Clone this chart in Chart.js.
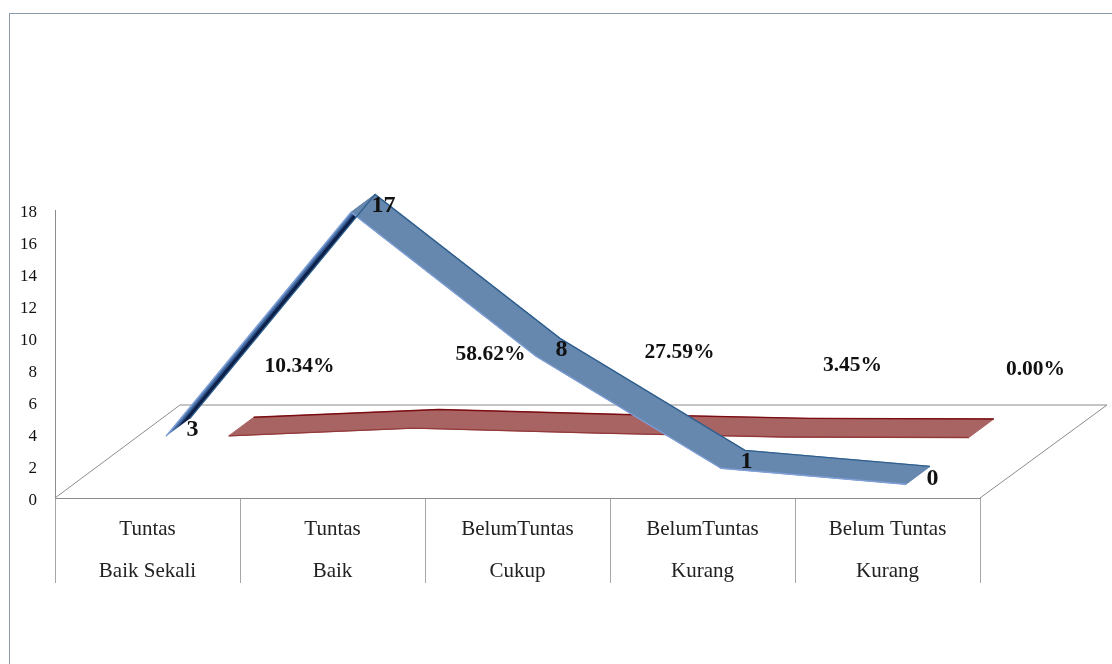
<!DOCTYPE html>
<html>
<head>
<meta charset="utf-8">
<title>Ketuntasan</title>
<script src="https://cdn.jsdelivr.net/npm/chart.js@4"></script>
<style>
    html, body { margin: 0; padding: 0; background: #fff; }
    #frame { position: absolute; left: 9px; top: 13px; right: 0; bottom: 0; border-left: 1px solid #8a9bab; border-top: 1px solid #8a9bab; }
    canvas { position: absolute; left: 0; top: 0; }
</style>
</head>
<body>
<div id="frame"></div>
<canvas id="chart" width="1112" height="664"></canvas>
<script>
// Chart values
const categories = [
    ['Tuntas', 'Baik Sekali'],
    ['Tuntas', 'Baik'],
    ['BelumTuntas', 'Cukup'],
    ['BelumTuntas', 'Kurang'],
    ['Belum Tuntas', 'Kurang']
];
const jumlah = [3, 17, 8, 1, 0];
const persen = [0.1034, 0.5862, 0.2759, 0.0345, 0];
const yTicks = [0, 2, 4, 6, 8, 10, 12, 14, 16, 18];

// Oblique projection of the 3D floor
const depthX = 125;
const depthY = -93;
const FONT = '"Liberation Serif", serif';

// Where the labels were dragged to, relative to their point
const jumlahShift = [[45, -20], [51, -20], [44, -20], [44, -20], [45, -19]];
const persenShift = [[152, -130], [158, -134], [162, -141], [150, -132], [148, -129]];

function drawRibbon(ctx, meta, look) {
    const pts = meta.data;
    const f = look.front, b = look.back;
    ctx.lineJoin = 'round';
    for (let i = 0; i < pts.length - 1; i++) {
        const p = pts[i], q = pts[i + 1];
        const dir = { x: q.x - p.x, y: q.y - p.y };
        const under = dir.x * depthY - dir.y * depthX > 0;
        const path = new Path2D();
        path.moveTo(p.x + depthX * f, p.y + depthY * f);
        path.lineTo(q.x + depthX * f, q.y + depthY * f);
        path.lineTo(q.x + depthX * b, q.y + depthY * b);
        path.lineTo(p.x + depthX * b, p.y + depthY * b);
        path.closePath();
        if (under) {
            // we see the underside of the ribbon on a steep rise
            const len = Math.hypot(dir.x, dir.y);
            const nx = -dir.y / len, ny = dir.x / len;
            const w = (depthX * nx + depthY * ny) * (b - f);
            const sx = p.x + depthX * f, sy = p.y + depthY * f;
            const g = ctx.createLinearGradient(sx, sy, sx + nx * w, sy + ny * w);
            g.addColorStop(0, '#5f8ac0');
            g.addColorStop(0.4, '#34598f');
            g.addColorStop(0.55, '#0f2450');
            g.addColorStop(1, '#0a1a3e');
            ctx.fillStyle = g;
            ctx.fill(path);
        } else {
            ctx.fillStyle = look.fill;
            ctx.strokeStyle = look.fill;
            ctx.lineWidth = 1;
            ctx.fill(path);
            ctx.stroke(path);
        }
    }
    ctx.lineWidth = 1.4;
    [[f, look.frontEdge], [b, look.backEdge]].forEach(e => {
        ctx.beginPath();
        pts.forEach((p, i) => {
            const x = p.x + depthX * e[0], y = p.y + depthY * e[0];
            if (i === 0) ctx.moveTo(x, y); else ctx.lineTo(x, y);
        });
        ctx.strokeStyle = e[1];
        ctx.stroke();
    });
}

const ribbonPlugin = {
    id: 'ribbon',
    beforeDatasetsDraw(chart) {
        const ctx = chart.ctx;
        const x = chart.scales.x, y = chart.scales.y;
        const y0 = y.getPixelForValue(0);
        // floor
        ctx.save();
        ctx.strokeStyle = '#8c8c8c';
        ctx.lineWidth = 1;
        ctx.beginPath();
        ctx.moveTo(x.left, y0);
        ctx.lineTo(x.left + depthX, y0 + depthY);
        ctx.lineTo(x.right + depthX + 2, y0 + depthY);
        ctx.lineTo(x.right, y0);
        ctx.stroke();
        ctx.restore();
    },
    afterDatasetsDraw(chart) {
        const ctx = chart.ctx;
        ctx.save();
        drawRibbon(ctx, chart.getDatasetMeta(1), {
            front: 0.65, back: 0.85, fill: '#a86463',
            frontEdge: '#93393a', backEdge: '#7a0c12'
        });
        drawRibbon(ctx, chart.getDatasetMeta(0), {
            front: 0.148, back: 0.34, fill: '#6687ae',
            frontEdge: '#7f9fd6', backEdge: '#2f5f8e'
        });

        ctx.fillStyle = '#111';
        ctx.textBaseline = 'middle';

        // y axis labels sit a little under their tick
        const ys = chart.scales.y;
        ctx.textAlign = 'right';
        ctx.font = '17px ' + FONT;
        ys.ticks.forEach(t => {
            ctx.fillText(String(t.value), ys.right - 18, ys.getPixelForValue(t.value) + 3);
        });

        // data labels
        ctx.textAlign = 'center';
        ctx.font = 'bold 24px ' + FONT;
        chart.getDatasetMeta(0).data.forEach((p, i) => {
            ctx.fillText(String(jumlah[i]), p.x + jumlahShift[i][0], p.y + jumlahShift[i][1]);
        });
        ctx.font = 'bold 21.5px ' + FONT;
        chart.getDatasetMeta(1).data.forEach((p, i) => {
            const text = (persen[i] * 100).toFixed(2) + '%';
            ctx.fillText(text, p.x + persenShift[i][0], p.y + persenShift[i][1]);
        });
        ctx.restore();
    }
};

new Chart(document.getElementById('chart'), {
    type: 'line',
    plugins: [ribbonPlugin],
    data: {
        labels: categories,
        datasets: [
            { label: 'Jumlah', data: jumlah, showLine: false, pointRadius: 0 },
            { label: 'Persen', data: persen, showLine: false, pointRadius: 0 }
        ]
    },
    options: {
        responsive: false,
        animation: false,
        events: [],
        layout: { padding: { left: 0, top: 210, right: 132, bottom: 81 } },
        plugins: { legend: { display: false }, tooltip: { enabled: false }, title: { display: false } },
        scales: {
            x: {
                offset: true,
                afterFit(scale) { scale.height = 85; scale.paddingLeft = 0; scale.paddingRight = 0; },
                grid: { offset: true, drawOnChartArea: false, tickLength: 85, color: '#a6a6a6', lineWidth: 1 },
                border: { color: '#8c8c8c', width: 1 },
                ticks: {
                    autoSkip: false,
                    maxRotation: 0,
                    minRotation: 0,
                    padding: -75,
                    color: '#222',
                    font: { family: FONT, size: 21, lineHeight: 2 }
                }
            },
            y: {
                min: 0,
                max: 18,
                afterFit(scale) { scale.width = 55; scale.paddingTop = 0; scale.paddingBottom = 0; },
                afterBuildTicks(scale) { scale.ticks = yTicks.map(v => ({ value: v })); },
                grid: { display: false, drawTicks: false },
                border: { color: '#8c8c8c', width: 1 },
                ticks: { display: false }
            }
        }
    }
});
</script>
</body>
</html>
